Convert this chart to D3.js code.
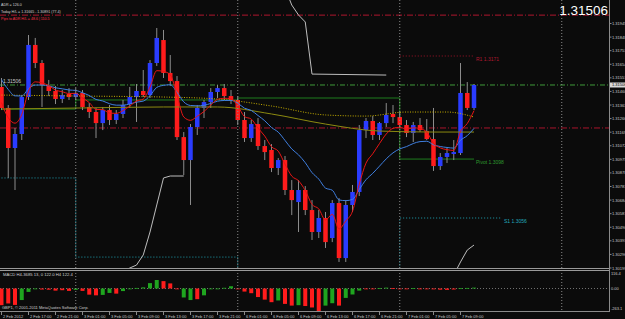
<!DOCTYPE html>
<html>
<head>
<meta charset="utf-8">
<script src="https://cdn.jsdelivr.net/npm/d3@7"></script>
<style>
html, body { margin: 0; padding: 0; background: #0b0b0b; }
svg { display: block; font-family: "Liberation Sans", Arial, sans-serif; }
</style>
</head>
<body>
<svg id="chart" width="625" height="319"></svg>
<script>
// ---- H1 candles, 2 Feb 13:00 .. 7 Feb 11:00 ----
const opens = [
	1.31492, 1.31342, 1.31056, 1.31156, 1.31420, 1.31792, 1.31663, 1.31499, 1.31463, 1.31406,
	1.31442, 1.31420, 1.31449, 1.31349, 1.31313, 1.31234, 1.31327, 1.31256, 1.31299, 1.31370,
	1.31420, 1.31463, 1.31434, 1.31663, 1.31827, 1.31592, 1.31534, 1.31134, 1.30970, 1.31206,
	1.31342, 1.31384, 1.31456, 1.31484, 1.31427, 1.31399, 1.31256, 1.31127, 1.31227, 1.31070,
	1.31042, 1.30913, 1.30970, 1.30756, 1.30670, 1.30756, 1.30613, 1.30456, 1.30556, 1.30413,
	1.30663, 1.30270, 1.30649, 1.30742, 1.31184, 1.31249, 1.31149, 1.31234, 1.31299, 1.31277,
	1.31220, 1.31163, 1.31220, 1.31177, 1.31120, 1.30927, 1.30992, 1.31013, 1.31020, 1.31449,
	1.31342];
const highs = [
	1.31556, 1.31363, 1.31199, 1.31434, 1.31863, 1.31842, 1.31684, 1.31542, 1.31499, 1.31470,
	1.31484, 1.31484, 1.31470, 1.31377, 1.31342, 1.31349, 1.31363, 1.31327, 1.31399, 1.31492,
	1.31513, 1.31613, 1.31684, 1.31913, 1.31899, 1.31720, 1.31570, 1.31170, 1.31227, 1.31363,
	1.31399, 1.31484, 1.31506, 1.31513, 1.31470, 1.31427, 1.31313, 1.31256, 1.31270, 1.31113,
	1.31084, 1.30984, 1.30999, 1.30827, 1.30827, 1.30784, 1.30684, 1.30613, 1.30599, 1.30684,
	1.30699, 1.30684, 1.30792, 1.31220, 1.31270, 1.31284, 1.31242, 1.31377, 1.31363, 1.31313,
	1.31256, 1.31242, 1.31270, 1.31263, 1.31342, 1.31020, 1.31056, 1.31113, 1.31663, 1.31527,
	1.31513];
const lows = [
	1.31327, 1.30842, 1.30756, 1.31113, 1.31399, 1.31627, 1.31349, 1.31427, 1.31370, 1.31377,
	1.31399, 1.31399, 1.31327, 1.31270, 1.31127, 1.31184, 1.31220, 1.31227, 1.31270, 1.31342,
	1.31242, 1.31420, 1.31413, 1.31642, 1.31556, 1.31499, 1.31113, 1.30863, 1.30649, 1.31149,
	1.31270, 1.31342, 1.31413, 1.31399, 1.31370, 1.31220, 1.31099, 1.31099, 1.31042, 1.30970,
	1.30884, 1.30863, 1.30720, 1.30577, 1.30456, 1.30577, 1.30399, 1.30413, 1.30342, 1.30384,
	1.30242, 1.30242, 1.30599, 1.30713, 1.31127, 1.31113, 1.31113, 1.31206, 1.31234, 1.31199,
	1.31134, 1.31099, 1.31170, 1.31113, 1.30892, 1.30899, 1.30949, 1.30970, 1.31006, 1.31327,
	1.31327];
const closes = [
	1.31342, 1.31056, 1.31156, 1.31420, 1.31792, 1.31663, 1.31506, 1.31463, 1.31406, 1.31434,
	1.31420, 1.31449, 1.31349, 1.31313, 1.31234, 1.31327, 1.31256, 1.31299, 1.31363, 1.31420,
	1.31463, 1.31434, 1.31663, 1.31842, 1.31592, 1.31534, 1.31134, 1.30970, 1.31206, 1.31342,
	1.31384, 1.31456, 1.31484, 1.31427, 1.31399, 1.31256, 1.31127, 1.31227, 1.31070, 1.31027,
	1.30913, 1.30970, 1.30756, 1.30684, 1.30756, 1.30613, 1.30456, 1.30556, 1.30384, 1.30663,
	1.30270, 1.30649, 1.30742, 1.31184, 1.31249, 1.31149, 1.31234, 1.31292, 1.31277, 1.31220,
	1.31163, 1.31220, 1.31184, 1.31120, 1.30927, 1.30992, 1.31020, 1.31027, 1.31449, 1.31342,
	1.31506];

// one label every 4 bars
const timeLabels = ["2 Feb 2012", "2 Feb 17:00", "2 Feb 21:00", "3 Feb 01:00", "3 Feb 05:00",
	"3 Feb 09:00", "3 Feb 13:00", "3 Feb 17:00", "3 Feb 21:00", "6 Feb 01:00", "6 Feb 05:00",
	"6 Feb 09:00", "6 Feb 13:00", "6 Feb 17:00", "6 Feb 21:00", "7 Feb 01:00", "7 Feb 05:00",
	"7 Feb 09:00"];
const dayStarts = [11, 35, 59, 83];

const priceTicks = [1.30199, 1.30296, 1.30393, 1.30490, 1.30587, 1.30684, 1.30781, 1.30878,
	1.30975, 1.31072, 1.31169, 1.31266, 1.31363, 1.31460, 1.31557, 1.31654, 1.31751, 1.31848,
	1.31945];

// slow averages: [bar, price]
const yellowMA = [[0, 1.31434], [12, 1.31427], [24, 1.31420], [32, 1.31406], [40, 1.31356],
	[48, 1.31292], [54, 1.31284], [60, 1.31313], [66, 1.31313], [70, 1.31277]];
const oliveMA = [[0, 1.31334], [12, 1.31342], [24, 1.31349], [32, 1.31349], [40, 1.31299],
	[48, 1.31227], [56, 1.31177], [64, 1.31170], [70, 1.31170]];

// trailing stop segments: [bar, price]
const stopLeft = [[18, 1.30170], [19, 1.30199], [20, 1.30220], [21, 1.30292], [22, 1.30456],
	[23, 1.30649], [24, 1.30842], [25, 1.30856], [27, 1.30856]];
const stopTop = [[42, 1.32199], [43, 1.32077], [44, 1.32006], [45, 1.31956], [46, 1.31584],
	[57, 1.31577]];
const stopRight = [[67, 1.30149], [68, 1.30242], [69, 1.30327], [70, 1.30363]];

// daily pivots (per day: 2, 3, 6, 7 Feb)
const dayBars = [[0, 11], [11, 35], [35, 59], [59, 70]];
const pivotLevels = [1.31334, 1.31399, 1.31413, 1.30977];
const s1Levels = [1.30842, 1.30277, 1.30130, 1.30556];
const r1Level = 1.31713;
const adrHigh = 1.32005;
const redLevel = 1.31199;

// MACD H4 histogram
const macdValues = [-195, -175, -192, -135, -40, -6, -12, -14, -25, -20,
	-28, -16, -28, -72, -80, -75, -52, -60, -30, -6,
	4, 8, 38, 60, 52, 36, -8, -105, -135, -125,
	-80, -6, -4, 5, 16, -4, -36, -55, -100, -130,
	-160, -140, -180, -200, -195, -205, -222, -263.1, -200, -172,
	-200, -110, -70, -25, -8, -5, 3, 6, 2, -3,
	-4, 3, -2, -6, -10, -14, -16, -12, 2, 4,
	6];
const macdGreen = [0, 0, 0, 1, 1, 1, 0, 0, 0, 0,
	0, 1, 0, 0, 0, 1, 1, 0, 1, 1,
	1, 1, 1, 1, 0, 0, 0, 1, 1, 0,
	1, 1, 1, 1, 1, 0, 0, 0, 0, 0,
	0, 1, 0, 0, 1, 0, 0, 0, 1, 1,
	0, 1, 1, 1, 0, 0, 1, 1, 0, 0,
	0, 1, 0, 0, 0, 0, 0, 0, 1, 1,
	1];
const macdTicks = [116.4, 0, -263.1];

const infoLines = ["ADR = 126.0", "Today H/L = 1.31665 - 1.30891 (77.4)", "Pips to ADR H/L = 48.6 | 110.5"];

// ---- layout ----
const W = 625, H = 319;
const AXIS_X = 609.5;
const MAIN_BOTTOM = 268;
const MACD_TOP = 272, MACD_BOTTOM = 311;

const svg = d3.select("#chart");
svg.append("rect").attr("width", W).attr("height", H).attr("fill", "#0b0b0b");

const x = d3.scaleLinear().domain([0, 70]).range([1.5, 474]);
const y = d3.scaleLinear().domain([1.30199, 1.32113]).range([MAIN_BOTTOM, 0]);
const ym = d3.scaleLinear().domain([-263.1, 0, 116.4]).range([MACD_BOTTOM, 288.5, MACD_TOP]);

const defs = svg.append("defs");
defs.append("clipPath").attr("id", "clipMain")
	.append("rect").attr("x", 0).attr("y", 0).attr("width", AXIS_X).attr("height", MAIN_BOTTOM);
defs.append("clipPath").attr("id", "clipMacd")
	.append("rect").attr("x", 0).attr("y", MACD_TOP - 1).attr("width", AXIS_X).attr("height", MACD_BOTTOM - MACD_TOP + 1);

const main = svg.append("g").attr("clip-path", "url(#clipMain)");
const macd = svg.append("g").attr("clip-path", "url(#clipMacd)");

const bars = closes.map((c, i) => ({i, o: opens[i], h: highs[i], l: lows[i], c}));

// Day separators
svg.append("g").selectAll("line")
	.data(dayStarts)
	.join("line")
	.attr("x1", d => x(d)).attr("x2", d => x(d))
	.attr("y1", 0).attr("y2", MACD_BOTTOM)
	.attr("stroke", "#8a8a8a")
	.attr("stroke-width", 1)
	.attr("stroke-dasharray", "1,2");

// Full width levels
const hLevel = (v, color, dash) => main.append("line")
	.attr("x1", 0).attr("x2", AXIS_X)
	.attr("y1", y(v)).attr("y2", y(v))
	.attr("stroke", color).attr("stroke-width", 1)
	.attr("stroke-dasharray", dash);
hLevel(adrHigh, "#b0162e", "6,2,1,2");
hLevel(redLevel, "#a8142c", "6,2,1,2");
hLevel(closes[closes.length - 1], "#3f9a3a", "5,2,1,2");

// Stepped daily levels
const stepLine = d3.line().x(d => x(d[0])).y(d => y(d[1]));
const stepPoints = levels => levels.flatMap((v, k) => [[dayBars[k][0], v], [dayBars[k][1], v]]);

main.append("path")
	.attr("d", stepLine(stepPoints(pivotLevels)))
	.attr("fill", "none").attr("stroke", "#1f7d1f").attr("stroke-width", 1);

const s1Pts = stepPoints(s1Levels);
s1Pts[s1Pts.length - 1] = [74, s1Levels[3]];
main.append("path")
	.attr("d", stepLine(s1Pts))
	.attr("fill", "none").attr("stroke", "#1e9fb0").attr("stroke-width", 1)
	.attr("stroke-dasharray", "1,2");

main.append("line")
	.attr("x1", x(59)).attr("x2", x(70))
	.attr("y1", y(r1Level)).attr("y2", y(r1Level))
	.attr("stroke", "#a0142a").attr("stroke-width", 1)
	.attr("stroke-dasharray", "1,2");

const fmt4 = d3.format(".4f");
const levelLabel = (txt, px, v, color) => main.append("text")
	.attr("x", px).attr("y", y(v) + 4.5)
	.attr("fill", color).attr("font-size", "5px")
	.text(txt);
levelLabel("R1 " + fmt4(r1Level), x(70) + 2, r1Level, "#b01830");
levelLabel("Pivot " + fmt4(pivotLevels[3]), x(70) + 2, pivotLevels[3], "#2e9a2e");
levelLabel("S1 " + fmt4(s1Levels[3]), x(74) + 3, s1Levels[3], "#22aabb");

// Trailing stop
const ptLine = d3.line().x(d => x(d[0])).y(d => y(d[1]));
for (const seg of [stopLeft, stopTop, stopRight]) {
	main.append("path")
		.attr("d", ptLine(seg))
		.attr("fill", "none").attr("stroke", "#bdbdbd").attr("stroke-width", 1);
}

// Candles
const cg = main.append("g");
cg.selectAll("line.wick")
	.data(bars)
	.join("line")
	.attr("class", "wick")
	.attr("x1", d => x(d.i)).attr("x2", d => x(d.i))
	.attr("y1", d => y(d.h)).attr("y2", d => y(d.l))
	.attr("stroke", "#8c8c8c").attr("stroke-width", 1);

cg.selectAll("rect.body")
	.data(bars)
	.join("rect")
	.attr("class", "body")
	.attr("x", d => x(d.i) - 2.25)
	.attr("width", 4.5)
	.attr("y", d => y(Math.max(d.o, d.c)))
	.attr("height", d => Math.max(1, Math.abs(y(d.o) - y(d.c))))
	.attr("fill", d => d.c >= d.o ? "#2a3cff" : "#ff1c1c");

// Moving averages
function ema(values, period, seed) {
	const k = 2 / (period + 1);
	let prev = seed;
	return values.map(v => (prev = prev + k * (v - prev)));
}
const fastMA = ema(closes, 5, 1.31399);
const slowMA = ema(closes, 13, 1.31577);

const curve = d3.line().x(d => x(d[0])).y(d => y(d[1])).curve(d3.curveMonotoneX);
main.append("path")
	.attr("d", curve(yellowMA))
	.attr("fill", "none").attr("stroke", "#c8b000").attr("stroke-width", 1)
	.attr("stroke-dasharray", "1,1.5");
main.append("path")
	.attr("d", curve(oliveMA))
	.attr("fill", "none").attr("stroke", "#8c8a10").attr("stroke-width", 1);
main.append("path")
	.attr("d", curve(slowMA.map((v, i) => [i, v])))
	.attr("fill", "none").attr("stroke", "#3f7fe0").attr("stroke-width", 1);
main.append("path")
	.attr("d", curve(fastMA.map((v, i) => [i, v])))
	.attr("fill", "none").attr("stroke", "#e81414").attr("stroke-width", 1);

// Bid tag on the left
main.append("text")
	.attr("x", 3).attr("y", y(closes[closes.length - 1]) - 2)
	.attr("fill", "#c8c8c8").attr("font-size", "5px")
	.text(closes[closes.length - 1].toFixed(5));

// Info lines top left
svg.append("g").selectAll("text")
	.data(infoLines)
	.join("text")
	.attr("x", 1)
	.attr("y", (d, k) => 5.5 + k * 7)
	.attr("fill", (d, k) => k === 2 ? "#ff3048" : "#d4d4d4")
	.attr("font-size", "3.6px")
	.text(d => d);

// Big price top right
svg.append("text")
	.attr("x", 608).attr("y", 14.5)
	.attr("text-anchor", "end")
	.attr("fill", "#ffffff")
	.attr("font-size", "13.5px")
	.text(closes[closes.length - 1].toFixed(5));

// Pane separator
for (const sy of [268.5, 270.5]) {
	svg.append("line")
		.attr("x1", 0).attr("x2", AXIS_X).attr("y1", sy).attr("y2", sy)
		.attr("stroke", "#9a9a9a").attr("stroke-width", 1);
}

// MACD
macd.append("line")
	.attr("x1", 0).attr("x2", AXIS_X).attr("y1", ym(0)).attr("y2", ym(0))
	.attr("stroke", "#707070").attr("stroke-dasharray", "1,2");
macd.selectAll("rect")
	.data(macdValues)
	.join("rect")
	.attr("x", (d, i) => x(i) - 2)
	.attr("width", 4)
	.attr("y", d => Math.min(ym(d), ym(0)))
	.attr("height", d => Math.max(0.8, Math.abs(ym(d) - ym(0))))
	.attr("fill", (d, i) => macdGreen[i] ? "#1fa51f" : "#ff1c1c");

svg.append("text")
	.attr("x", 3).attr("y", 276)
	.attr("fill", "#d0d0d0").attr("font-size", "4.2px")
	.text("MACD H4-3685 13, 0 122.0 H4 122.4");
svg.append("text")
	.attr("x", 2).attr("y", 308.5)
	.attr("fill", "#d0d0d0").attr("font-size", "4px")
	.text("GBP1, \u00a9 2001-2011 MetaQuotes Software Corp.");

// Frame
svg.append("line")
	.attr("x1", AXIS_X).attr("x2", AXIS_X).attr("y1", 0).attr("y2", 312)
	.attr("stroke", "#8a8a8a");
svg.append("line")
	.attr("x1", 0).attr("x2", AXIS_X).attr("y1", 311.5).attr("y2", 311.5)
	.attr("stroke", "#8a8a8a");

// Price axis
const pa = svg.append("g");
pa.selectAll("line")
	.data(priceTicks)
	.join("line")
	.attr("x1", AXIS_X).attr("x2", AXIS_X + 2)
	.attr("y1", d => y(d)).attr("y2", d => y(d))
	.attr("stroke", "#8a8a8a");
pa.selectAll("text")
	.data(priceTicks)
	.join("text")
	.attr("x", 612).attr("y", d => y(d) + 1.5)
	.attr("fill", "#c8c8c8").attr("font-size", "4px")
	.text(d => d.toFixed(5));

// Bid box on axis
const bidY = y(closes[closes.length - 1]);
svg.append("rect")
	.attr("x", 610).attr("y", bidY - 2.5).attr("width", 15).attr("height", 5)
	.attr("fill", "#d8d8d8");
svg.append("text")
	.attr("x", 612).attr("y", bidY + 1.5)
	.attr("fill", "#000").attr("font-size", "4px")
	.text(closes[closes.length - 1].toFixed(5));

// MACD axis
const fmtM = d => d === 0 ? "0.00" : String(d);
svg.append("g").selectAll("text")
	.data(macdTicks)
	.join("text")
	.attr("x", 611)
	.attr("y", d => Math.min(309.5, Math.max(275, ym(d) + 1.5)))
	.attr("fill", "#c8c8c8").attr("font-size", "4px")
	.text(fmtM);

// Time axis
const ta = svg.append("g");
ta.selectAll("line")
	.data(timeLabels)
	.join("line")
	.attr("x1", (d, k) => x(k * 4)).attr("x2", (d, k) => x(k * 4))
	.attr("y1", 312).attr("y2", 315)
	.attr("stroke", "#8a8a8a");
ta.selectAll("text")
	.data(timeLabels)
	.join("text")
	.attr("x", (d, k) => x(k * 4) + 1.5)
	.attr("y", 317.5)
	.attr("fill", "#c8c8c8").attr("font-size", "4px")
	.text(d => d);
</script>
</body>
</html>
